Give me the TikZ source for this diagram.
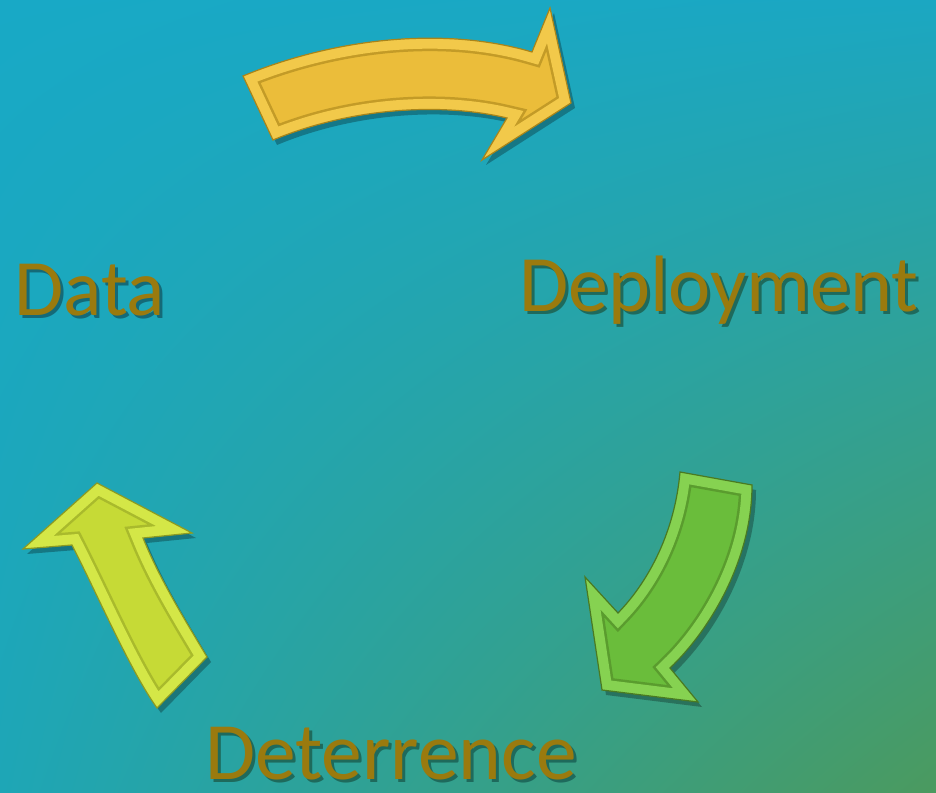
\documentclass[tikz,border=0pt]{standalone}
\usepackage{fontspec}
\setmainfont{Carlito}
\usetikzlibrary{shadings}
\newcommand\shadowtext[2]{\makebox[0pt][l]{\hspace*{3pt}\raisebox{-3pt}{\textcolor{#1}{#2}}}#2}
\begin{document}
\begin{tikzpicture}[x=1pt,y=1pt]
\definecolor{bgUL}{HTML}{18A9C6}
\definecolor{bgUR}{HTML}{1BA7C2}
\definecolor{bgLL}{HTML}{1EA6B6}
\definecolor{bgLR}{HTML}{4B9A5F}
\definecolor{goldface}{HTML}{EBBD3A}
\definecolor{goldband}{HTML}{F2C94A}
\definecolor{goldedge}{HTML}{A8841A}
\definecolor{greenface}{HTML}{6ABD3B}
\definecolor{greenband}{HTML}{86D251}
\definecolor{greenedge}{HTML}{4A7A22}
\definecolor{limeface}{HTML}{C6DA36}
\definecolor{limeband}{HTML}{D4E747}
\definecolor{limeedge}{HTML}{8C9A22}
\definecolor{labeltext}{HTML}{9A7A0E}
\definecolor{shadowA}{HTML}{146A78}
\definecolor{shadowB}{HTML}{1E6A5C}
\tikzset{
  labelstyle/.style={anchor=base west,inner sep=0pt,text=labeltext,font=\fontsize{80}{96}\selectfont},
  arrowshadow/.style={fill=black,fill opacity=0.28},
}
\useasboundingbox (0,0) rectangle (936,792);
\shade[upper left=bgUL,upper right=bgUR,lower left=bgLL,lower right=bgLR] (0,0) rectangle (936,792);
\begin{scope}[shift={(0,792)},yscale=-1]
\def\toparrow{(243,76) .. controls (330,40) and (440,25) .. (532,52) -- (550,8) -- (571,103) -- (482,160) -- (507,118) .. controls (440,102) and (350,108) .. (273,140) -- cycle}
\def\greenarrow{(680,472) -- (752,485) .. controls (752,560) and (710,630) .. (670,668) -- (698,702) -- (602,690) -- (585,577) -- (618,613) .. controls (650,580) and (675,530) .. (680,472) -- cycle}
\def\limearrow{(97,483) -- (192,533) -- (143,538) .. controls (160,580) and (185,620) .. (207,657) -- (157,708) .. controls (130,670) and (100,600) .. (72,545) -- (23,549) -- cycle}
\begin{scope}[shift={(4,5)}]
\fill[arrowshadow] \toparrow;
\fill[arrowshadow] \greenarrow;
\fill[arrowshadow] \limearrow;
\end{scope}
% top
\fill[goldface] \toparrow;
\begin{scope}
\clip \toparrow;
\draw[line width=26pt,goldedge!60!goldface,line join=miter] \toparrow;
\draw[line width=21pt,goldband,line join=miter] \toparrow;
\end{scope}
\draw[goldedge,line width=1.2pt,line join=miter] \toparrow;
% green
\fill[greenface] \greenarrow;
\begin{scope}
\clip \greenarrow;
\draw[line width=26pt,greenedge!50!greenface,line join=miter] \greenarrow;
\draw[line width=21pt,greenband,line join=miter] \greenarrow;
\end{scope}
\draw[greenedge,line width=1.2pt,line join=miter] \greenarrow;
% lime
\fill[limeface] \limearrow;
\begin{scope}
\clip \limearrow;
\draw[line width=26pt,limeedge!50!limeface,line join=miter] \limearrow;
\draw[line width=21pt,limeband,line join=miter] \limearrow;
\end{scope}
\draw[limeedge,line width=1.2pt,line join=miter] \limearrow;
% labels
\node[labelstyle] (data) at (14,316) {\shadowtext{shadowA}{Data}};
\node[labelstyle] (deploy) at (519,312) {\shadowtext{shadowB}{Deployment}};
\node[labelstyle,font=\fontsize{81.5}{96}\selectfont] (deter) at (205,779) {\shadowtext{shadowB}{Deterrence}};
\end{scope}
\end{tikzpicture}
\end{document}
